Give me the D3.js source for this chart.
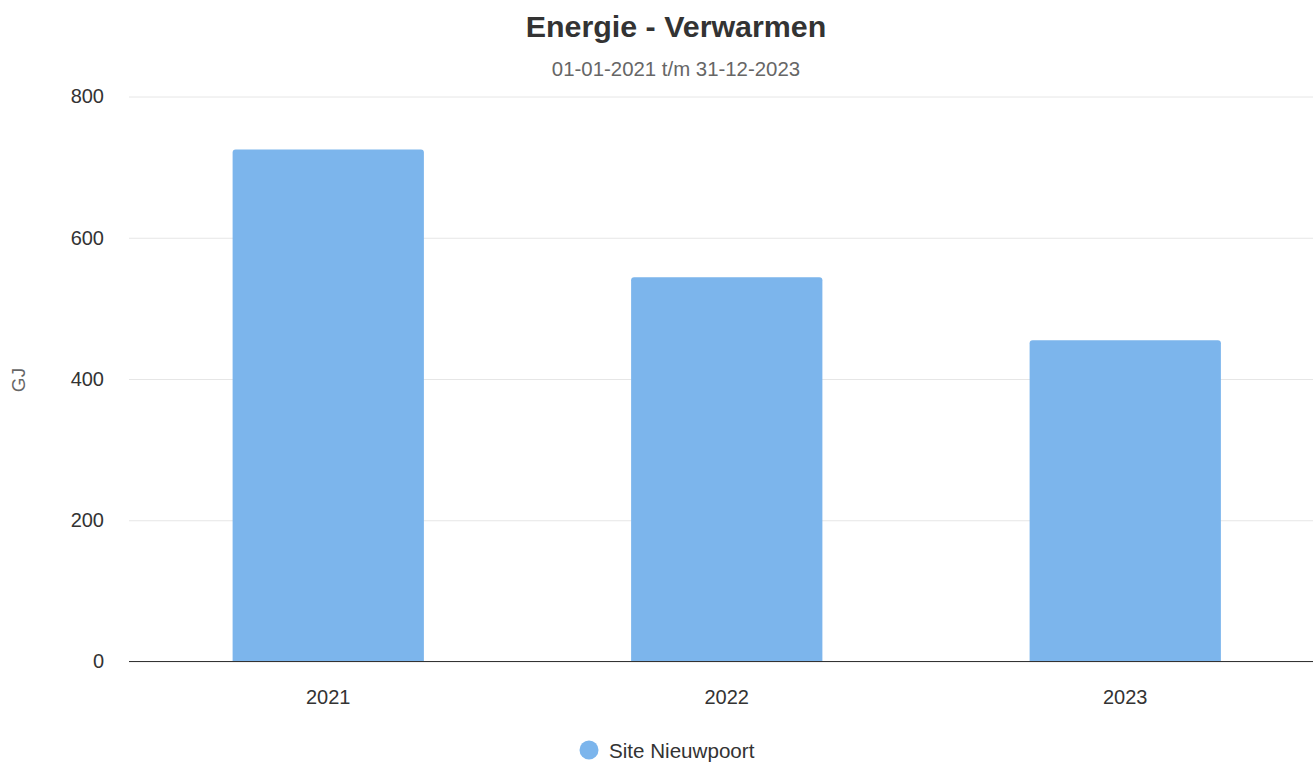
<!DOCTYPE html>
<html><head><meta charset="utf-8">
<script src="https://cdn.jsdelivr.net/npm/d3@7"></script>
<style>body{margin:0;background:#fff;}svg{display:block;font-family:"Liberation Sans",Arial,sans-serif;}</style>
</head><body>
<svg id="c" width="1313" height="762"></svg>
<script>
const categories = ["2021", "2022", "2023"];
const values = [725, 544, 455];
const yTicks = [0, 200, 400, 600, 800];
const seriesName = "Site Nieuwpoort";
const titleText = "Energie - Verwarmen";
const subtitleText = "01-01-2021 t/m 31-12-2023";
const yLabel = "GJ";

const FONT = "Liberation Sans, Arial, sans-serif";
const svg = d3.select("#c");
const pLeft = 129, pRight = 1324.5, pTop = 96.5, pBottom = 661.5;
const x = d3.scaleBand().domain(categories).range([pLeft, pRight]).paddingInner(0.52).paddingOuter(0.26);
const y = d3.scaleLinear().domain([0, 800]).range([pBottom, pTop]);

svg.append("text").attr("x", 676).attr("y", 36.5).attr("text-anchor", "middle")
  .attr("font-size", 30.4).attr("font-weight", "bold").attr("fill", "#333").text(titleText);
svg.append("text").attr("x", 676).attr("y", 75.5).attr("text-anchor", "middle")
  .attr("font-size", 20.4).attr("fill", "#666").text(subtitleText);

// grid
const yAxis = d3.axisLeft(y).tickValues(yTicks).tickSize(-(1313 - pLeft)).tickPadding(25).tickFormat(d3.format("d"));
const ga = svg.append("g").attr("transform", `translate(${pLeft},0)`).call(yAxis);
ga.attr("font-family", FONT);
ga.select(".domain").remove();
ga.selectAll(".tick line").attr("stroke", "#e6e6e6");
ga.selectAll(".tick text").attr("font-size", 20).attr("fill", "#333");

svg.append("text").attr("transform", "translate(25,380) rotate(-90)").attr("text-anchor", "middle")
  .attr("font-size", 19).attr("fill", "#666").text(yLabel);

// bars with rounded top
const r = 3;
svg.append("g").selectAll("path").data(values).join("path")
  .attr("fill", "#7cb5ec")
  .attr("d", (d, i) => {
    const x0 = x(categories[i]), w = x.bandwidth(), y0 = y(d), y1 = y(0);
    return `M${x0},${y1}V${y0 + r}Q${x0},${y0} ${x0 + r},${y0}H${x0 + w - r}Q${x0 + w},${y0} ${x0 + w},${y0 + r}V${y1}Z`;
  });

// x axis
const xAxis = d3.axisBottom(x).tickSize(0).tickPadding(28);
const gx = svg.append("g").attr("transform", `translate(0,${pBottom})`).call(xAxis);
gx.attr("font-family", FONT);
gx.select(".domain").attr("stroke", "#333").attr("d", `M${pLeft},0H1313`);
gx.selectAll(".tick text").attr("font-size", 20).attr("fill", "#333");

// legend
svg.append("circle").attr("cx", 589).attr("cy", 750).attr("r", 9.5).attr("fill", "#7cb5ec");
svg.append("text").attr("x", 609).attr("y", 758).attr("font-size", 20.6).attr("fill", "#333").text(seriesName);
</script>
</body></html>
